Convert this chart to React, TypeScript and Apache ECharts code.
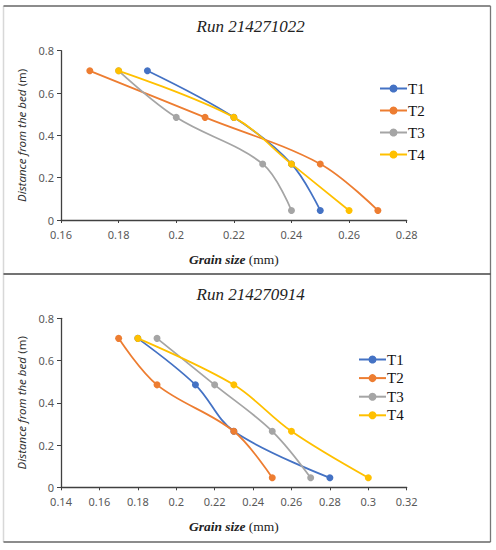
import React, { useEffect, useRef } from "react";
import * as echarts from "echarts";

const seriesNames = ["T1", "T2", "T3", "T4"];
const colors = ["#4472C4", "#ED7D31", "#A5A5A5", "#FFC000"];
const heights = [0.705, 0.485, 0.265, 0.045];

const titles = ["Run 214271022", "Run 214270914"];

// grain sizes (mm) per series, top run
const run1T1 = [0.19, 0.22, 0.24, 0.25];
const run1T2 = [0.17, 0.21, 0.25, 0.27];
const run1T3 = [0.18, 0.2, 0.23, 0.24];
const run1T4 = [0.18, 0.22, 0.24, 0.26];

// bottom run
const run2T1 = [0.18, 0.21, 0.23, 0.28];
const run2T2 = [0.17, 0.19, 0.23, 0.25];
const run2T3 = [0.19, 0.22, 0.25, 0.27];
const run2T4 = [0.18, 0.23, 0.26, 0.3];

const xRange1 = [0.16, 0.28];
const xRange2 = [0.14, 0.32];
const xStep = 0.02;
const yRange = [0, 0.8];
const yStep = 0.2;

export default function App() {
  const ref = useRef<HTMLDivElement>(null);
  useEffect(() => {
    document.body.style.margin = "0";
    const chart = echarts.init(ref.current!, null, { renderer: "svg" });
    const runs = [
      [run1T1, run1T2, run1T3, run1T4],
      [run2T1, run2T2, run2T3, run2T4],
    ];
    const xRanges = [xRange1, xRange2];
    const grids = [
      { left: 61, top: 50.7, width: 345.7, height: 169.3 },
      { left: 61, top: 318.3, width: 345.7, height: 169 },
    ];
    const tickLabel = {
      color: "#595959",
      fontSize: 11,
      fontFamily: "Noto Sans",
    };
    const axisLine = { lineStyle: { color: "#404040", width: 1.3 } };
    const serif = "Liberation Serif";
    const xAxes = xRanges.map((r, i) => ({
      type: "value",
      gridIndex: i,
      min: r[0],
      max: r[1],
      interval: xStep,
      axisLine: { show: true, ...axisLine },
      axisTick: { show: true, length: 3, lineStyle: { color: "#404040" } },
      splitLine: { show: false },
      axisLabel: {
        ...tickLabel,
        margin: 9,
        formatter: (v: number) => String(parseFloat(v.toFixed(2))),
      },
      name: "{i|Grain size} {r|(mm)}",
      nameLocation: "middle",
      nameGap: 32,
      nameTextStyle: {
        rich: {
          i: { fontFamily: serif, fontStyle: "italic", fontWeight: "bold", fontSize: 13.5, color: "#222" },
          r: { fontFamily: serif, fontSize: 13.5, color: "#222" },
        },
      },
    }));
    const yAxes = [0, 1].map((i) => ({
      type: "value",
      gridIndex: i,
      min: yRange[0],
      max: yRange[1],
      interval: yStep,
      axisLine: { show: true, ...axisLine },
      axisTick: { show: true, length: 4, lineStyle: { color: "#404040" } },
      splitLine: { show: false },
      axisLabel: {
        ...tickLabel,
        margin: 7,
        formatter: (v: number) => String(parseFloat(v.toFixed(1))),
      },
      name: "{i|Distance from the bed} {r|(m)}",
      nameLocation: "middle",
      nameGap: 33,
      nameTextStyle: {
        rich: {
          i: { fontFamily: "Noto Sans", fontStyle: "italic", fontSize: 11.5, color: "#333" },
          r: { fontFamily: "Noto Sans", fontSize: 11.5, color: "#333" },
        },
      },
    }));
    const series: any[] = [];
    runs.forEach((run, gi) => {
      run.forEach((xs, si) => {
        series.push({
          type: "line",
          name: seriesNames[si],
          xAxisIndex: gi,
          yAxisIndex: gi,
          data: xs.map((x, k) => [x, heights[k]]),
          smooth: 0.35,
          symbol: "circle",
          symbolSize: 7,
          itemStyle: { color: colors[si] },
          lineStyle: { color: colors[si], width: 1.8 },
          z: 2 + si,
        });
      });
    });
    const legendCommon = {
      orient: "vertical",
      itemWidth: 27,
      itemHeight: 10,
      textStyle: { fontFamily: serif, fontSize: 15, color: "#111", padding: [0, 0, 0, -4] },
      data: seriesNames,
    };
    chart.setOption({
      animation: false,
      backgroundColor: "#fff",
      title: [
        {
          text: titles[0],
          top: 13,
          textStyle: { fontFamily: serif, fontStyle: "italic", fontWeight: "normal", fontSize: 17, color: "#222" },
        },
        {
          text: titles[1],
          top: 281,
          textStyle: { fontFamily: serif, fontStyle: "italic", fontWeight: "normal", fontSize: 17, color: "#222" },
        },
      ].map((t) => ({ ...t, left: 245.6, textAlign: "center" })),
      legend: [
        { ...legendCommon, left: 374, top: 76, itemGap: 7 },
        { ...legendCommon, left: 353, top: 347, itemGap: 3.6 },
      ],
      grid: grids,
      xAxis: xAxes,
      yAxis: yAxes,
      series,
      graphic: [
        { type: "line", shape: { x1: 3.5, y1: 6, x2: 3.5, y2: 542 }, style: { stroke: "#d8d8d8", lineWidth: 1.5 } },
        { type: "line", shape: { x1: 3.5, y1: 6, x2: 490.5, y2: 6 }, style: { stroke: "#666", lineWidth: 1.3 } },
        { type: "line", shape: { x1: 490.5, y1: 6, x2: 490.5, y2: 542 }, style: { stroke: "#777", lineWidth: 1.3 } },
        { type: "line", shape: { x1: 3.5, y1: 274, x2: 490.5, y2: 274 }, style: { stroke: "#444", lineWidth: 1.5 } },
        { type: "line", shape: { x1: 3.5, y1: 542, x2: 490.5, y2: 542 }, style: { stroke: "#666", lineWidth: 1.3 } },
      ],
    });
    return () => chart.dispose();
  }, []);
  return <div ref={ref} style={{ width: 496, height: 550 }} />;
}
